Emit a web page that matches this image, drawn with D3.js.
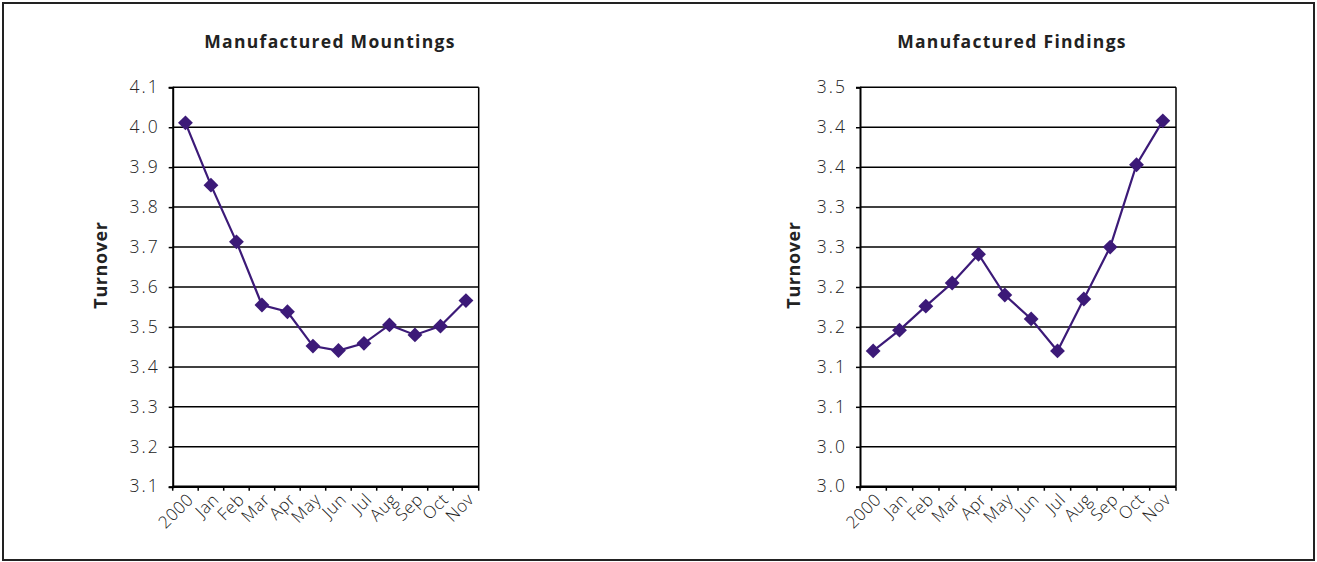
<!DOCTYPE html>
<html>
<head>
<meta charset="utf-8">
<script src="https://cdn.jsdelivr.net/npm/d3@7"></script>
<style>
  html, body { margin: 0; padding: 0; background: #fff; }
  svg { display: block; }
  text { font-family: "Open Sans", "Noto Sans", sans-serif; fill: #222; }
</style>
</head>
<body>
<svg id="chart" width="1317" height="562"></svg>
<script>
// Monthly turnover ratios
const months = ["2000", "Jan", "Feb", "Mar", "Apr", "May", "Jun", "Jul", "Aug", "Sep", "Oct", "Nov"];
const mountings = [4.011, 3.855, 3.713, 3.555, 3.538, 3.452, 3.441, 3.459, 3.505, 3.480, 3.502, 3.566];
const findings = [3.170, 3.196, 3.226, 3.255, 3.291, 3.240, 3.210, 3.170, 3.235, 3.300, 3.403, 3.458];

// Axis ticks and their printed labels (one decimal place, truncated)
const mountingsTicks = [3.1, 3.2, 3.3, 3.4, 3.5, 3.6, 3.7, 3.8, 3.9, 4.0, 4.1];
const mountingsTickLabels = ["3.1", "3.2", "3.3", "3.4", "3.5", "3.6", "3.7", "3.8", "3.9", "4.0", "4.1"];
const findingsTicks = [3.00, 3.05, 3.10, 3.15, 3.20, 3.25, 3.30, 3.35, 3.40, 3.45, 3.50];
const findingsTickLabels = ["3.0", "3.0", "3.1", "3.1", "3.2", "3.2", "3.3", "3.3", "3.4", "3.4", "3.5"];

const svg = d3.select("#chart");
const LINE = "#3c1a78";

// Outer frame
svg.append("rect")
  .attr("x", 3).attr("y", 3).attr("width", 1311).attr("height", 557)
  .attr("fill", "none").attr("stroke", "#222").attr("stroke-width", 2);

function panel(opts) {
  const { title, values, ticks, tickLabels, left, right, top, bottom, titleX, labelX } = opts;
  const g = svg.append("g");

  const x = d3.scaleBand().domain(months).range([left, right]);
  const y = d3.scaleLinear().domain([ticks[0], ticks[ticks.length - 1]]).range([bottom, top]);

  // Horizontal gridlines
  g.append("g").selectAll("line").data(ticks).join("line")
    .attr("x1", left).attr("x2", right)
    .attr("y1", d => y(d)).attr("y2", d => y(d))
    .attr("stroke", "#000").attr("stroke-width", 1.5);

  // Right edge of plot area
  g.append("line")
    .attr("x1", right).attr("x2", right).attr("y1", top).attr("y2", bottom)
    .attr("stroke", "#000").attr("stroke-width", 1.5);

  // Y axis
  const yAxis = d3.axisLeft(y).tickValues(ticks).tickSize(4).tickPadding(9)
    .tickFormat((d, i) => tickLabels[i]);
  const ya = g.append("g").attr("transform", `translate(${left},0)`).call(yAxis);
  ya.select(".domain").attr("stroke", "#000").attr("stroke-width", 2);
  ya.selectAll(".tick line").attr("stroke", "#000").attr("stroke-width", 1.5);
  ya.selectAll(".tick text")
    .attr("font-size", 17.5).attr("font-weight", 300).attr("letter-spacing", "2px")
    .attr("dy", "0.3em")
    .style("font-family", "'Open Sans', sans-serif").attr("fill", "#222");

  // X axis: ticks between categories
  const boundaries = months.map(m => x(m)).concat([right]);
  const xa = g.append("g");
  xa.append("line")
    .attr("x1", left).attr("x2", right).attr("y1", bottom).attr("y2", bottom)
    .attr("stroke", "#000").attr("stroke-width", 2.5);
  xa.selectAll("line.tk").data(boundaries).join("line").attr("class", "tk")
    .attr("x1", d => d).attr("x2", d => d)
    .attr("y1", bottom).attr("y2", bottom + 4)
    .attr("stroke", "#000").attr("stroke-width", 1.5);
  xa.selectAll("text").data(months).join("text")
    .attr("transform", d => `translate(${x(d) + x.bandwidth() / 2 + 9},${bottom + 14}) rotate(-45)`)
    .attr("text-anchor", "end")
    .attr("font-size", 17).attr("font-weight", 300).attr("letter-spacing", "0.5px")
    .text(d => d);

  // Series line and diamond markers
  const cx = (d, i) => x(months[i]) + x.bandwidth() / 2;
  g.append("path").datum(values)
    .attr("fill", "none").attr("stroke", LINE).attr("stroke-width", 2.2)
    .attr("d", d3.line().x(cx).y(d => y(d)));
  g.append("g").selectAll("path").data(values).join("path")
    .attr("transform", (d, i) => `translate(${cx(d, i)},${y(d)}) rotate(45)`)
    .attr("d", d3.symbol(d3.symbolSquare, 110))
    .attr("fill", LINE);

  // Title
  g.append("text")
    .attr("x", titleX).attr("y", 48)
    .attr("text-anchor", "middle")
    .attr("font-size", 17.5).attr("font-weight", "bold").attr("letter-spacing", "1.3px")
    .text(title);

  // Y axis title
  g.append("text")
    .attr("transform", `translate(${labelX},265) rotate(-90)`)
    .attr("text-anchor", "middle")
    .attr("font-size", 18).attr("font-weight", "bold").attr("letter-spacing", "0.6px")
    .text("Turnover");
}

panel({
  title: "Manufactured Mountings", values: mountings,
  ticks: mountingsTicks, tickLabels: mountingsTickLabels,
  left: 172.7, right: 478.7, top: 87.3, bottom: 486.7, titleX: 330, labelX: 107
});
panel({
  title: "Manufactured Findings", values: findings,
  ticks: findingsTicks, tickLabels: findingsTickLabels,
  left: 860, right: 1176, top: 87.3, bottom: 486.7, titleX: 1012, labelX: 800
});
</script>
</body>
</html>
